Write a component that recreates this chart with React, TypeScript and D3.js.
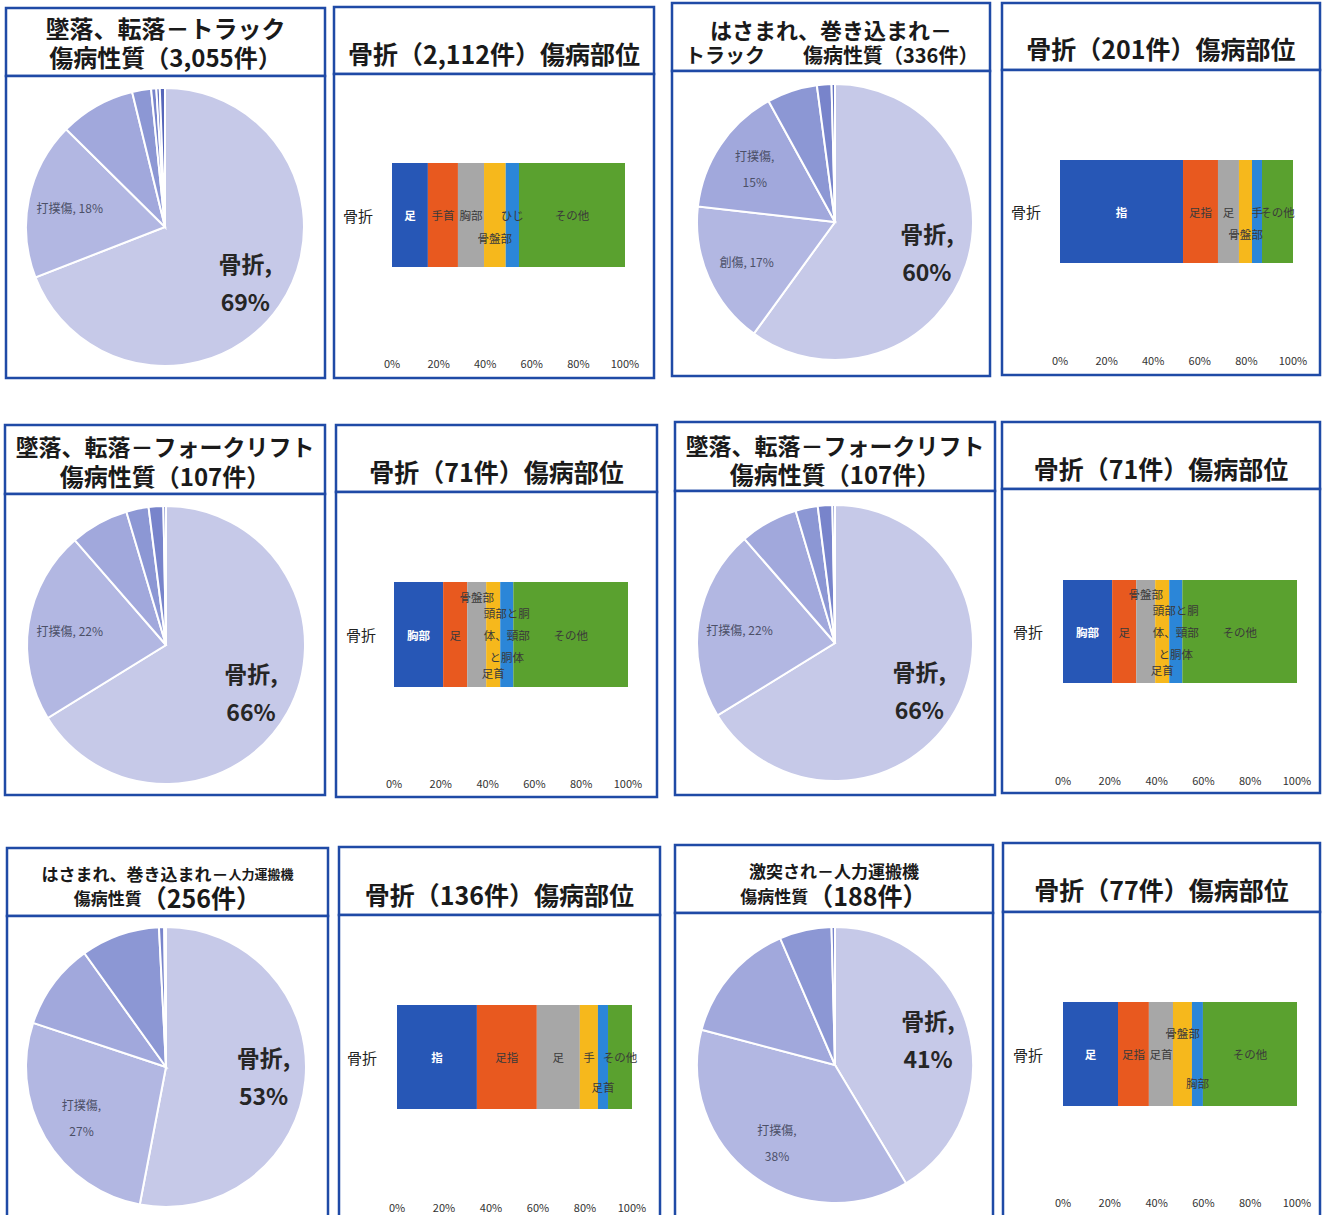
import React from 'react';
import * as d3 from 'd3';

// ---------------- DATA ----------------
// Pie charts (傷病性質) – shares in %, clockwise from 12 o'clock
const pieTruckFall = [69.1, 18.3, 8.8, 2.2, 0.6, 0.4, 0.6];
const pieTruckCaught = [60, 16.8, 15.2, 5.9, 1.7, 0.4];
const pieForkFall = [66.2, 22.4, 6.8, 2.6, 1.7, 0.3];
const pieCartCaught = [53, 27.1, 10, 9.1, 0.6, 0.2];
const pieCartHit = [41.4, 37.7, 14.4, 6.1, 0.4];

// Pie data labels: slice index, text lines, emphasis
const labelsTruckFall = [
  { i: 0, lines: ['骨折,', '69%'], big: true },
  { i: 1, lines: ['打撲傷, 18%'], big: false },
];
const labelsTruckCaught = [
  { i: 0, lines: ['骨折,', '60%'], big: true },
  { i: 1, lines: ['創傷, 17%'], big: false },
  { i: 2, lines: ['打撲傷,', '15%'], big: false },
];
const labelsForkFall = [
  { i: 0, lines: ['骨折,', '66%'], big: true },
  { i: 1, lines: ['打撲傷, 22%'], big: false },
];
const labelsCartCaught = [
  { i: 0, lines: ['骨折,', '53%'], big: true },
  { i: 1, lines: ['打撲傷,', '27%'], big: false },
];
const labelsCartHit = [
  { i: 0, lines: ['骨折,', '41%'], big: true },
  { i: 1, lines: ['打撲傷,', '38%'], big: false },
];

// Stacked 100% bars (骨折 傷病部位)
const barCategory = '骨折';
const partsTruckFall = ['足', '手首', '胸部', '骨盤部', 'ひじ', 'その他'];
const valuesTruckFall = [15.4, 12.9, 11.2, 9.3, 5.7, 45.5];
const partsTruckCaught = ['指', '足指', '足', '骨盤部', '手', 'その他'];
const valuesTruckCaught = [52.8, 15.0, 9.0, 5.6, 4.3, 13.3];
const partsForkFall = ['胸部', '足', '骨盤部', '足首', '頭部と胴体、頸部と胴体', 'その他'];
const valuesForkFall = [21.0, 10.3, 8.1, 6.0, 5.6, 49.0];
const partsCartCaught = ['指', '足指', '足', '手', '足首', 'その他'];
const valuesCartCaught = [34.0, 25.5, 18.3, 7.7, 4.3, 10.2];
const partsCartHit = ['足', '足指', '足首', '骨盤部', '胸部', 'その他'];
const valuesCartHit = [23.5, 13.2, 10.3, 8.1, 4.7, 40.2];

const axisTicks = [0, 20, 40, 60, 80, 100];

// ---------------- STYLE ----------------
const FONT = "'Noto Sans CJK JP', 'Noto Sans', sans-serif";
const BORDER = '#1f4aa6';
const pieColors = ['#c6c9e8', '#b2b7e2', '#a1a8dc', '#8c97d4', '#7884cb', '#6674c2', '#5666ba'];
const barColors = ['#2757b6', '#e8591f', '#a7a7a7', '#f6b81c', '#2b86d8', '#5aa12f'];

type Part = { t: string; s: number; dx?: number };
type TLine = { y: number; parts: Part[]; anchor?: 'middle' | 'start'; x?: number };

const Title = ({ cx, lines }: { cx: number; lines: TLine[] }) => (
  <g>
    {lines.map((ln, k) => (
      <text
        key={k}
        x={ln.x ?? cx}
        y={ln.y}
        textAnchor={ln.anchor ?? 'middle'}
        dominantBaseline="central"
        fontFamily={FONT}
        fontWeight={700}
        fill="#1a1a1a"
      >
        {ln.parts.map((p, j) => (
          <tspan key={j} fontSize={p.s} dx={p.dx ?? 0} style={{ whiteSpace: 'pre' }}>
            {p.t}
          </tspan>
        ))}
      </text>
    ))}
  </g>
);

type Box = { x: number; y: number; w: number; h: number; div: number };

const Frame = ({ box }: { box: Box }) => (
  <g fill="none" stroke={BORDER} strokeWidth={2.5}>
    <rect x={box.x} y={box.y} width={box.w} height={box.div - box.y} fill="#fff" />
    <rect x={box.x} y={box.div} width={box.w} height={box.y + box.h - box.div} fill="#fff" />
  </g>
);

type PieLabel = { i: number; lines: string[]; big: boolean };

const Pie = ({ box, cx, cy, r, values, labels, title }: {
  box: Box; cx: number; cy: number; r: number; values: number[]; labels: PieLabel[]; title: TLine[];
}) => {
  const arcs = d3.pie<number>().sort(null).value((d) => d)(values);
  const arcGen = d3.arc<d3.PieArcDatum<number>>().innerRadius(0).outerRadius(r);
  const labelArc = d3.arc<d3.PieArcDatum<number>>().innerRadius(r * 0.7).outerRadius(r * 0.7);
  return (
    <g>
      <Frame box={box} />
      <Title cx={box.x + box.w / 2} lines={title} />
      <g transform={`translate(${cx},${cy})`}>
        {arcs.map((a, k) => (
          <path key={k} d={arcGen(a) || ''} fill={pieColors[k % pieColors.length]} stroke="#fff" strokeWidth={2} />
        ))}
        {labels.map((lb, k) => {
          const [lx, ly] = labelArc.centroid(arcs[lb.i]);
          const gap = lb.big ? 38 : 26;
          const n = lb.lines.length;
          return (
            <text
              key={k}
              x={lx}
              textAnchor="middle"
              dominantBaseline="central"
              fontFamily={FONT}
              fontWeight={lb.big ? 700 : 400}
              fontSize={lb.big ? 23 : 12}
              fill={lb.big ? '#262626' : '#4c5068'}
            >
              {lb.lines.map((t, j) => (
                <tspan key={j} x={lx} y={ly + (j - (n - 1) / 2) * gap}>{t}</tspan>
              ))}
            </text>
          );
        })}
      </g>
    </g>
  );
};

type BarLabelAdj = { [k: number]: number };

const Bar = ({ box, x0, x1, y0, y1, tickY, catX, parts, values, title, adj, wrap }: {
  box: Box; x0: number; x1: number; y0: number; y1: number; tickY: number; catX: number;
  parts: string[]; values: number[]; title: TLine[]; adj: BarLabelAdj; wrap?: { [k: number]: string[] };
}) => {
  const x = d3.scaleLinear().domain([0, 100]).range([x0, x1]);
  const cum = [0, ...Array.from(d3.cumsum(values))];
  const cy = (y0 + y1) / 2;
  return (
    <g>
      <Frame box={box} />
      <Title cx={box.x + box.w / 2} lines={title} />
      <text x={catX} y={cy} textAnchor="middle" dominantBaseline="central" fontFamily={FONT} fontSize={15} fill="#222">
        {barCategory}
      </text>
      {values.map((v, k) => (
        <rect key={k} x={x(cum[k])} y={y0} width={x(cum[k + 1]) - x(cum[k])} height={y1 - y0} fill={barColors[k]} />
      ))}
      {values.map((v, k) => {
        const lx = (x(cum[k]) + x(cum[k + 1])) / 2;
        const ly = cy + (adj[k] ?? 0);
        const lines = wrap && wrap[k] ? wrap[k] : [parts[k]];
        const n = lines.length;
        return (
          <text key={k} textAnchor="middle" dominantBaseline="central" fontFamily={FONT} fontSize={11.5}
            fontWeight={k === 0 ? 700 : 400} fill={k === 0 ? '#ffffff' : '#3a3a3a'}>
            {lines.map((t, j) => (
              <tspan key={j} x={lx} y={ly + (j - (n - 1) / 2) * 22}>{t}</tspan>
            ))}
          </text>
        );
      })}
      {axisTicks.map((t) => (
        <text key={t} x={x(t)} y={tickY} textAnchor="middle" dominantBaseline="central" fontFamily={FONT} fontSize={11} fill="#333">
          {d3.format('d')(t)}%
        </text>
      ))}
    </g>
  );
};

const forkWrap = { 4: ['頭部と胴', '体、頸部', 'と胴体'] };

export default function App() {
  return (
    <svg width={1326} height={1215} style={{ position: 'absolute', left: 0, top: 0, background: '#fff' }}>
      {/* Row 1 */}
      <Pie box={{ x: 6, y: 8, w: 319, h: 370, div: 76 }} cx={165} cy={227} r={139}
        values={pieTruckFall} labels={labelsTruckFall}
        title={[{ y: 27, parts: [{ t: '墜落、転落－トラック', s: 24 }] }, { y: 56, parts: [{ t: '傷病性質（3,055件）', s: 24 }] }]} />
      <Bar box={{ x: 334, y: 7, w: 320, h: 371, div: 74 }} x0={392} x1={625} y0={163} y1={267} tickY={363} catX={358}
        parts={partsTruckFall} values={valuesTruckFall} adj={{ 3: 23 }}
        title={[{ y: 53, parts: [{ t: '骨折（2,112件）傷病部位', s: 25 }] }]} />
      <Pie box={{ x: 672, y: 3, w: 318, h: 373, div: 71 }} cx={835} cy={222} r={138}
        values={pieTruckCaught} labels={labelsTruckCaught}
        title={[
          { y: 29, parts: [{ t: 'はさまれ、巻き込まれ－', s: 22 }] },
          { y: 54, anchor: 'start', x: 685, parts: [{ t: 'トラック', s: 20 }, { t: '傷病性質（336件）', s: 20, dx: 38 }] },
        ]} />
      <Bar box={{ x: 1002, y: 3, w: 318, h: 372, div: 70 }} x0={1060} x1={1293} y0={160} y1={263} tickY={360} catX={1026}
        parts={partsTruckCaught} values={valuesTruckCaught} adj={{ 3: 22 }}
        title={[{ y: 48, parts: [{ t: '骨折（201件）傷病部位', s: 25 }] }]} />

      {/* Row 2 */}
      <Pie box={{ x: 5, y: 425, w: 320, h: 370, div: 494 }} cx={166} cy={645} r={139}
        values={pieForkFall} labels={labelsForkFall}
        title={[{ y: 446, parts: [{ t: '墜落、転落－フォークリフト', s: 23 }] }, { y: 475, parts: [{ t: '傷病性質（107件）', s: 24 }] }]} />
      <Bar box={{ x: 336, y: 425, w: 321, h: 372, div: 492 }} x0={394} x1={628} y0={582} y1={687} tickY={783} catX={361}
        parts={partsForkFall} values={valuesForkFall} adj={{ 2: -38, 3: 38 }} wrap={forkWrap}
        title={[{ y: 471, parts: [{ t: '骨折（71件）傷病部位', s: 25 }] }]} />
      <Pie box={{ x: 675, y: 422, w: 320, h: 373, div: 491 }} cx={835} cy={643} r={138}
        values={pieForkFall} labels={labelsForkFall}
        title={[{ y: 445, parts: [{ t: '墜落、転落－フォークリフト', s: 23 }] }, { y: 473, parts: [{ t: '傷病性質（107件）', s: 24 }] }]} />
      <Bar box={{ x: 1002, y: 422, w: 318, h: 371, div: 489 }} x0={1063} x1={1297} y0={580} y1={683} tickY={780} catX={1028}
        parts={partsForkFall} values={valuesForkFall} adj={{ 2: -38, 3: 38 }} wrap={forkWrap}
        title={[{ y: 468, parts: [{ t: '骨折（71件）傷病部位', s: 25 }] }]} />

      {/* Row 3 */}
      <Pie box={{ x: 7, y: 848, w: 321, h: 400, div: 916 }} cx={166} cy={1067} r={140}
        values={pieCartCaught} labels={labelsCartCaught}
        title={[
          { y: 873, parts: [{ t: 'はさまれ、巻き込まれ－', s: 17 }, { t: '人力運搬機', s: 13 }] },
          { y: 897, parts: [{ t: '傷病性質', s: 17 }, { t: '（256件）', s: 25 }] },
        ]} />
      <Bar box={{ x: 339, y: 847, w: 321, h: 400, div: 915 }} x0={397} x1={632} y0={1005} y1={1109} tickY={1207} catX={362}
        parts={partsCartCaught} values={valuesCartCaught} adj={{ 4: 30 }}
        title={[{ y: 894, parts: [{ t: '骨折（136件）傷病部位', s: 25 }] }]} />
      <Pie box={{ x: 675, y: 845, w: 318, h: 400, div: 913 }} cx={835} cy={1065} r={138}
        values={pieCartHit} labels={labelsCartHit}
        title={[
          { y: 870, parts: [{ t: '激突され－人力運搬機', s: 17 }] },
          { y: 895, parts: [{ t: '傷病性質', s: 17 }, { t: '（188件）', s: 25 }] },
        ]} />
      <Bar box={{ x: 1003, y: 843, w: 317, h: 400, div: 912 }} x0={1063} x1={1297} y0={1002} y1={1106} tickY={1202} catX={1028}
        parts={partsCartHit} values={valuesCartHit} adj={{ 3: -21, 4: 29 }}
        title={[{ y: 889, parts: [{ t: '骨折（77件）傷病部位', s: 25 }] }]} />
    </svg>
  );
}
